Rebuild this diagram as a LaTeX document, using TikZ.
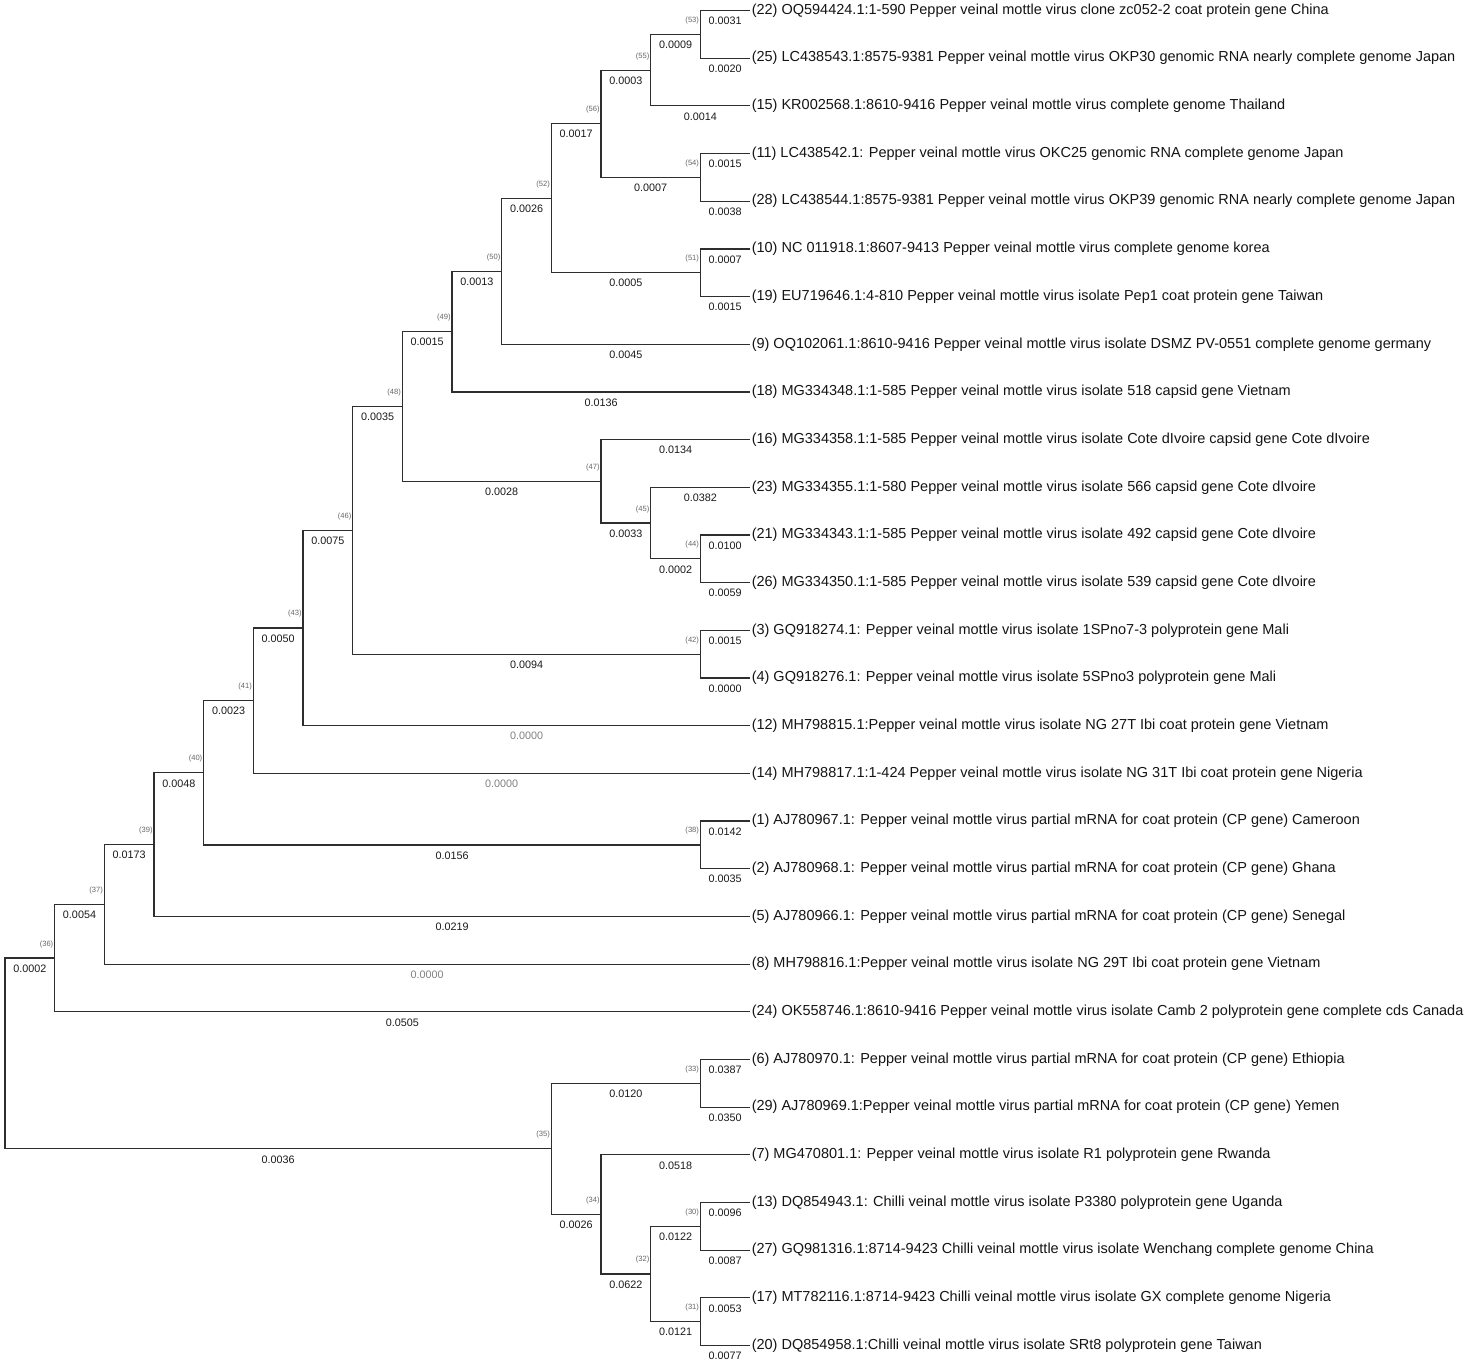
\documentclass[tikz,border=0pt]{standalone}
\usepackage{fontspec}
\setmainfont{Liberation Sans}
\usetikzlibrary{calc}
\newcommand\brlab[4][bl]{\node[#1] (b-#3) at ($(#2|-#3)!.5!(#3)+(0,-10.5pt)$) {#4};}
\newcommand\ndlab[2]{\node[nl] (lab-#1) at ($(#1)+(-1.2pt,14pt)$) {(#2)};}
\begin{document}
\begin{tikzpicture}[x=49.67pt,y=-47.68pt,
  br/.style={draw=black!82, line width=1.2pt},
  leaf/.style={anchor=west, inner sep=1.5pt, font=\fontsize{14.5}{16}\selectfont, text=black!92},
  bl/.style={font=\fontsize{10.8}{12}\selectfont, inner sep=0pt, text=black!90},
  blg/.style={bl, text=black!50},
  nl/.style={font=\fontsize{7.6}{8}\selectfont, text=black!60, inner sep=0pt, anchor=east}]
\useasboundingbox (-5pt,10.5pt) rectangle (1463pt,-1354.5pt);
% leaf tips
\foreach \i in {0,...,28} {\coordinate (t\i) at (15,\i);}
\node[leaf] (l0) at (t0) {(22) OQ594424.1:1-590 Pepper veinal mottle virus clone zc052-2 coat protein gene China};
\node[leaf] (l1) at (t1) {(25) LC438543.1:8575-9381 Pepper veinal mottle virus OKP30 genomic RNA nearly complete genome Japan};
\node[leaf] (l2) at (t2) {(15) KR002568.1:8610-9416 Pepper veinal mottle virus complete genome Thailand};
\node[leaf] (l3) at (t3) {(11) LC438542.1: Pepper veinal mottle virus OKC25 genomic RNA complete genome Japan};
\node[leaf] (l4) at (t4) {(28) LC438544.1:8575-9381 Pepper veinal mottle virus OKP39 genomic RNA nearly complete genome Japan};
\node[leaf] (l5) at (t5) {(10) NC 011918.1:8607-9413 Pepper veinal mottle virus complete genome korea};
\node[leaf] (l6) at (t6) {(19) EU719646.1:4-810 Pepper veinal mottle virus isolate Pep1 coat protein gene Taiwan};
\node[leaf] (l7) at (t7) {(9) OQ102061.1:8610-9416 Pepper veinal mottle virus isolate DSMZ PV-0551 complete genome germany};
\node[leaf] (l8) at (t8) {(18) MG334348.1:1-585 Pepper veinal mottle virus isolate 518 capsid gene Vietnam};
\node[leaf] (l9) at (t9) {(16) MG334358.1:1-585 Pepper veinal mottle virus isolate Cote dIvoire capsid gene Cote dIvoire};
\node[leaf] (l10) at (t10) {(23) MG334355.1:1-580 Pepper veinal mottle virus isolate 566 capsid gene Cote dIvoire};
\node[leaf] (l11) at (t11) {(21) MG334343.1:1-585 Pepper veinal mottle virus isolate 492 capsid gene Cote dIvoire};
\node[leaf] (l12) at (t12) {(26) MG334350.1:1-585 Pepper veinal mottle virus isolate 539 capsid gene Cote dIvoire};
\node[leaf] (l13) at (t13) {(3) GQ918274.1: Pepper veinal mottle virus isolate 1SPno7-3 polyprotein gene Mali};
\node[leaf] (l14) at (t14) {(4) GQ918276.1: Pepper veinal mottle virus isolate 5SPno3 polyprotein gene Mali};
\node[leaf] (l15) at (t15) {(12) MH798815.1:Pepper veinal mottle virus isolate NG 27T Ibi coat protein gene Vietnam};
\node[leaf] (l16) at (t16) {(14) MH798817.1:1-424 Pepper veinal mottle virus isolate NG 31T Ibi coat protein gene Nigeria};
\node[leaf] (l17) at (t17) {(1) AJ780967.1: Pepper veinal mottle virus partial mRNA for coat protein (CP gene) Cameroon};
\node[leaf] (l18) at (t18) {(2) AJ780968.1: Pepper veinal mottle virus partial mRNA for coat protein (CP gene) Ghana};
\node[leaf] (l19) at (t19) {(5) AJ780966.1: Pepper veinal mottle virus partial mRNA for coat protein (CP gene) Senegal};
\node[leaf] (l20) at (t20) {(8) MH798816.1:Pepper veinal mottle virus isolate NG 29T Ibi coat protein gene Vietnam};
\node[leaf] (l21) at (t21) {(24) OK558746.1:8610-9416 Pepper veinal mottle virus isolate Camb 2 polyprotein gene complete cds Canada};
\node[leaf] (l22) at (t22) {(6) AJ780970.1: Pepper veinal mottle virus partial mRNA for coat protein (CP gene) Ethiopia};
\node[leaf] (l23) at (t23) {(29) AJ780969.1:Pepper veinal mottle virus partial mRNA for coat protein (CP gene) Yemen};
\node[leaf] (l24) at (t24) {(7) MG470801.1: Pepper veinal mottle virus isolate R1 polyprotein gene Rwanda};
\node[leaf] (l25) at (t25) {(13) DQ854943.1: Chilli veinal mottle virus isolate P3380 polyprotein gene Uganda};
\node[leaf] (l26) at (t26) {(27) GQ981316.1:8714-9423 Chilli veinal mottle virus isolate Wenchang complete genome China};
\node[leaf] (l27) at (t27) {(17) MT782116.1:8714-9423 Chilli veinal mottle virus isolate GX complete genome Nigeria};
\node[leaf] (l28) at (t28) {(20) DQ854958.1:Chilli veinal mottle virus isolate SRt8 polyprotein gene Taiwan};
% internal nodes
\coordinate (n53) at (14,0.5);
\coordinate (n55) at (13,1.25);
\coordinate (n54) at (14,3.5);
\coordinate (n56) at (12,2.375);
\coordinate (n51) at (14,5.5);
\coordinate (n52) at (11,3.9375);
\coordinate (n50) at (10,5.46875);
\coordinate (n49) at (9,6.734375);
\coordinate (n44) at (14,11.5);
\coordinate (n45) at (13,10.75);
\coordinate (n47) at (12,9.875);
\coordinate (n48) at (8,8.3046875);
\coordinate (n42) at (14,13.5);
\coordinate (n46) at (7,10.90234375);
\coordinate (n43) at (6,12.951171875);
\coordinate (n41) at (5,14.4755859);
\coordinate (n38) at (14,17.5);
\coordinate (n40) at (4,15.987793);
\coordinate (n39) at (3,17.493896);
\coordinate (n37) at (2,18.746948);
\coordinate (n36) at (1,19.873474);
\coordinate (n33) at (14,22.5);
\coordinate (n30) at (14,25.5);
\coordinate (n31) at (14,27.5);
\coordinate (n32) at (13,26.5);
\coordinate (n34) at (12,25.25);
\coordinate (n35) at (11,23.875);
\coordinate (root) at (0,21.874237);
% branches
\draw[br] (l0.west) -| (n53) |- (l1.west);
\draw[br] (n53) -| (n55) |- (l2.west);
\draw[br] (l3.west) -| (n54) |- (l4.west);
\draw[br] (n55) -| (n56) |- (n54);
\draw[br] (l5.west) -| (n51) |- (l6.west);
\draw[br] (n56) -| (n52) |- (n51);
\draw[br] (n52) -| (n50) |- (l7.west);
\draw[br] (n50) -| (n49) |- (l8.west);
\draw[br] (l11.west) -| (n44) |- (l12.west);
\draw[br] (l10.west) -| (n45) |- (n44);
\draw[br] (l9.west) -| (n47) |- (n45);
\draw[br] (n49) -| (n48) |- (n47);
\draw[br] (l13.west) -| (n42) |- (l14.west);
\draw[br] (n48) -| (n46) |- (n42);
\draw[br] (n46) -| (n43) |- (l15.west);
\draw[br] (n43) -| (n41) |- (l16.west);
\draw[br] (l17.west) -| (n38) |- (l18.west);
\draw[br] (n41) -| (n40) |- (n38);
\draw[br] (n40) -| (n39) |- (l19.west);
\draw[br] (n39) -| (n37) |- (l20.west);
\draw[br] (n37) -| (n36) |- (l21.west);
\draw[br] (l22.west) -| (n33) |- (l23.west);
\draw[br] (l25.west) -| (n30) |- (l26.west);
\draw[br] (l27.west) -| (n31) |- (l28.west);
\draw[br] (n30) -| (n32) |- (n31);
\draw[br] (l24.west) -| (n34) |- (n32);
\draw[br] (n33) -| (n35) |- (n34);
\draw[br] (n36) -| (root) |- (n35);
% branch lengths
\brlab{n53}{t0}{0.0031} \brlab{n53}{t1}{0.0020}
\brlab{n55}{n53}{0.0009} \brlab{n55}{t2}{0.0014}
\brlab{n54}{t3}{0.0015} \brlab{n54}{t4}{0.0038}
\brlab{n56}{n55}{0.0003} \brlab{n56}{n54}{0.0007}
\brlab{n51}{t5}{0.0007} \brlab{n51}{t6}{0.0015}
\brlab{n52}{n56}{0.0017} \brlab{n52}{n51}{0.0005}
\brlab{n50}{n52}{0.0026} \brlab{n50}{t7}{0.0045}
\brlab{n49}{n50}{0.0013} \brlab{n49}{t8}{0.0136}
\brlab{n44}{t11}{0.0100} \brlab{n44}{t12}{0.0059}
\brlab{n45}{t10}{0.0382} \brlab{n45}{n44}{0.0002}
\brlab{n47}{t9}{0.0134} \brlab{n47}{n45}{0.0033}
\brlab{n48}{n49}{0.0015} \brlab{n48}{n47}{0.0028}
\brlab{n42}{t13}{0.0015} \brlab{n42}{t14}{0.0000}
\brlab{n46}{n48}{0.0035} \brlab{n46}{n42}{0.0094}
\brlab{n43}{n46}{0.0075} \brlab[blg]{n43}{t15}{0.0000}
\brlab{n41}{n43}{0.0050} \brlab[blg]{n41}{t16}{0.0000}
\brlab{n38}{t17}{0.0142} \brlab{n38}{t18}{0.0035}
\brlab{n40}{n41}{0.0023} \brlab{n40}{n38}{0.0156}
\brlab{n39}{n40}{0.0048} \brlab{n39}{t19}{0.0219}
\brlab{n37}{n39}{0.0173} \brlab[blg]{n37}{t20}{0.0000}
\brlab{n36}{n37}{0.0054} \brlab{n36}{t21}{0.0505}
\brlab{n33}{t22}{0.0387} \brlab{n33}{t23}{0.0350}
\brlab{n30}{t25}{0.0096} \brlab{n30}{t26}{0.0087}
\brlab{n31}{t27}{0.0053} \brlab{n31}{t28}{0.0077}
\brlab{n32}{n30}{0.0122} \brlab{n32}{n31}{0.0121}
\brlab{n34}{t24}{0.0518} \brlab{n34}{n32}{0.0622}
\brlab{n35}{n33}{0.0120} \brlab{n35}{n34}{0.0026}
\brlab{root}{n36}{0.0002} \brlab{root}{n35}{0.0036}
% node ids
\ndlab{n53}{53} \ndlab{n55}{55} \ndlab{n54}{54} \ndlab{n56}{56}
\ndlab{n51}{51} \ndlab{n52}{52} \ndlab{n50}{50} \ndlab{n49}{49}
\ndlab{n44}{44} \ndlab{n45}{45} \ndlab{n47}{47} \ndlab{n48}{48}
\ndlab{n42}{42} \ndlab{n46}{46} \ndlab{n43}{43} \ndlab{n41}{41}
\ndlab{n38}{38} \ndlab{n40}{40} \ndlab{n39}{39} \ndlab{n37}{37}
\ndlab{n36}{36} \ndlab{n33}{33} \ndlab{n30}{30} \ndlab{n31}{31}
\ndlab{n32}{32} \ndlab{n34}{34} \ndlab{n35}{35}
\end{tikzpicture}
\end{document}
